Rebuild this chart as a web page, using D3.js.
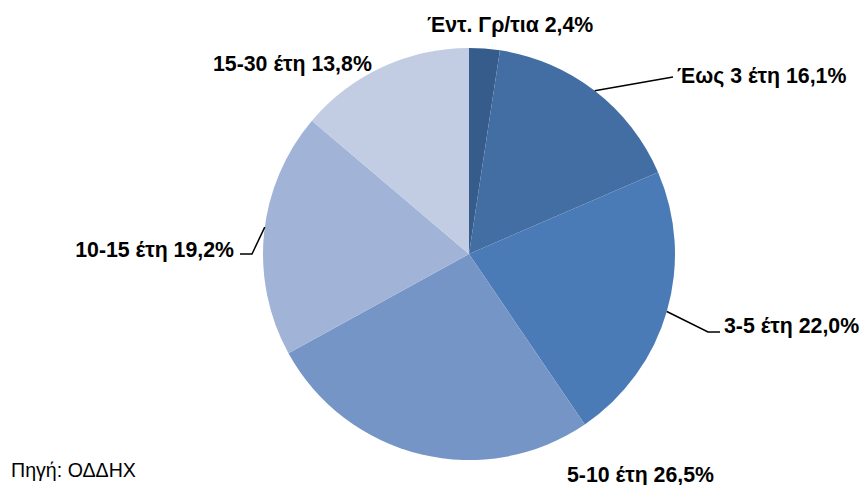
<!DOCTYPE html>
<html><head><meta charset="utf-8">
<script src="https://cdn.jsdelivr.net/npm/d3@7"></script>
<style>body{margin:0;background:#fff}svg{display:block}</style>
</head><body>
<svg id="c" width="862" height="485"></svg>
<script>
const categories = ["Έντ. Γρ/τια", "Έως 3 έτη", "3-5 έτη", "5-10 έτη", "10-15 έτη", "15-30 έτη"];
const values = [2.4, 16.1, 22.0, 26.5, 19.2, 13.8];
const valueLabels = ["2,4%", "16,1%", "22,0%", "26,5%", "19,2%", "13,8%"];
const colors = ["#365c8c", "#426ea3", "#4a7bb6", "#7595c7", "#a1b4d7", "#c2cde3"];
const source = "Πηγή: ΟΔΔΗΧ";

const svg = d3.select("#c");
const cx = 469, cy = 254, R = 206;
const g = svg.append("g").attr("transform", `translate(${cx},${cy})`);
const pie = d3.pie().sort(null).value(d => d)(values);
const arc = d3.arc().innerRadius(0).outerRadius(R);
g.selectAll("path").data(pie).enter().append("path")
  .attr("d", arc).attr("fill", (d, i) => colors[i]).attr("stroke", "none");

// label layout (text anchor point, alignment, leader polyline)
const layout = [
  {x: 427, y: 32, anchor: "start", leader: null},
  {x: 677, y: 83, anchor: "start", leader: {da: 0, pts: [[673, 77]]}},
  {x: 724, y: 333, anchor: "start", leader: {da: 0, pts: [[708, 332], [720, 332]]}},
  {x: 567, y: 482, anchor: "start", leader: null},
  {x: 234, y: 257, anchor: "end", leader: {da: 0.03, pts: [[252, 254], [240, 254]]}},
  {x: 213, y: 71, anchor: "start", leader: null}
];

pie.forEach((d, i) => {
  const L = layout[i];
  if (L.leader) {
    const a = (d.startAngle + d.endAngle) / 2 + L.leader.da;
    const p0 = [cx + Math.sin(a) * R, cy - Math.cos(a) * R];
    const pts = [p0].concat(L.leader.pts);
    svg.append("path").attr("d", d3.line()(pts))
      .attr("fill", "none").attr("stroke", "#000").attr("stroke-width", 1.5);
  }
  svg.append("text").attr("x", L.x).attr("y", L.y).attr("text-anchor", L.anchor)
    .attr("font-family", "Liberation Sans, Arial, sans-serif").attr("font-weight", "bold")
    .attr("font-size", 21.3).attr("fill", "#000")
    .text(categories[i] + " " + valueLabels[i]);
});

svg.append("text").attr("x", 11).attr("y", 477)
  .attr("font-family", "Liberation Sans, Arial, sans-serif").attr("font-size", 19.6)
  .attr("fill", "#000").text(source);
</script>
</body></html>
